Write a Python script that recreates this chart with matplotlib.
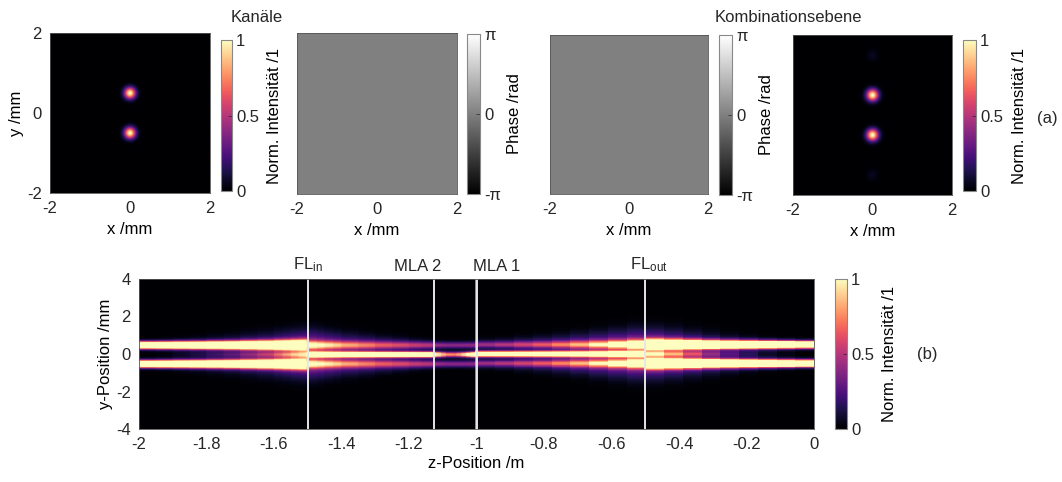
#!/usr/bin/env python3
"""Beam combination figure: channel / combination plane and propagation along z."""
import matplotlib
matplotlib.use("Agg")
import matplotlib.pyplot as plt
import numpy as np

plt.rcParams["font.family"] = ["Liberation Sans", "DejaVu Sans"]
plt.rcParams["font.size"] = 12
plt.rcParams["axes.unicode_minus"] = False
plt.rcParams["mathtext.fontset"] = "custom"
plt.rcParams["mathtext.rm"] = "Liberation Sans"
plt.rcParams["mathtext.it"] = "Liberation Sans"
plt.rcParams["text.color"] = "#262626"
plt.rcParams["xtick.color"] = "#262626"
plt.rcParams["ytick.color"] = "#262626"

W, H = 1062, 482
TEXT = "#262626"

# --- top row: spot positions (mm) and relative amplitudes ---
channel_spot_y = [0.5, -0.5]
channel_spot_amp = [1.0, 1.0]
channel_spot_sigma = 0.10
combined_spot_y = [1.5, 0.5, -0.5, -1.5]
combined_spot_amp = [0.06, 1.0, 1.0, 0.06]
combined_spot_sigma = 0.105
phase_value = 0.0

# --- bottom: propagation, beam parameters read per z sample ---
BEAM_Y = 0.5          # outer beam offset (mm)
CENTER_SIGMA = 0.095  # width of central beam (mm)

# smooth part (-2 m ... -1 m), sampled nodes
smooth_z = [-2.0, -1.9, -1.8, -1.7, -1.6, -1.55, -1.505,
            -1.495, -1.45, -1.4, -1.3, -1.2, -1.13,
            -1.12, -1.09, -1.06, -1.03, -1.005]
smooth_outer_amp = [2.0, 2.0, 2.0, 2.0, 2.0, 2.0, 2.0,
                    0.85, 0.7, 0.6, 0.47, 0.4, 0.35,
                    0.32, 0.3, 0.3, 0.3, 0.3]
smooth_outer_sigma = [0.125, 0.13, 0.135, 0.145, 0.16, 0.17, 0.18,
                      0.16, 0.16, 0.15, 0.14, 0.13, 0.12,
                      0.11, 0.11, 0.11, 0.11, 0.11]
smooth_center_amp = [0.0, 0.03, 0.12, 0.25, 0.45, 0.65, 0.9,
                     2.0, 2.0, 2.0, 2.0, 2.0, 2.0,
                     1.5, 0.8, 0.75, 1.2, 2.0]
smooth_halo_amp = [0.0, 0.06, 0.12, 0.18, 0.26, 0.32, 0.36,
                   0.38, 0.33, 0.28, 0.22, 0.17, 0.14,
                   0.12, 0.1, 0.1, 0.1, 0.12]
smooth_halo_sigma = [0.2, 0.27, 0.34, 0.41, 0.48, 0.52, 0.55,
                     0.55, 0.5, 0.44, 0.34, 0.25, 0.19,
                     0.17, 0.17, 0.17, 0.17, 0.19]

# stepped part (-1 m ... 0 m), blocks of 1/18 m
block_edges = [-1.0 + k / 18 for k in range(19)]
block_outer_amp = [0.3, 0.35, 0.4, 0.45, 0.52, 0.6, 0.72, 0.88, 1.15,
                   2.0, 2.0, 2.0, 2.0, 2.0, 2.0, 2.0, 2.0, 2.0]
block_outer_sigma = [0.11, 0.11, 0.12, 0.12, 0.13, 0.14, 0.15, 0.16, 0.17,
                     0.18, 0.17, 0.16, 0.15, 0.145, 0.14, 0.135, 0.13, 0.125]
block_center_amp = [2.0, 2.0, 2.0, 2.0, 2.0, 2.0, 2.0, 2.0, 2.0,
                    0.75, 0.6, 0.45, 0.3, 0.2, 0.12, 0.06, 0.03, 0.0]
block_halo_amp = [0.14, 0.15, 0.17, 0.2, 0.23, 0.26, 0.3, 0.34, 0.38,
                  0.38, 0.33, 0.27, 0.21, 0.16, 0.12, 0.08, 0.04, 0.0]
block_halo_sigma = [0.2, 0.23, 0.27, 0.31, 0.35, 0.4, 0.45, 0.5, 0.55,
                    0.55, 0.51, 0.46, 0.41, 0.36, 0.31, 0.26, 0.22, 0.2]

element_names = [r"FL$_{\mathrm{in}}$", "MLA 2", "MLA 1", r"FL$_{\mathrm{out}}$"]
element_z = [-1.5, -1.125, -1.0, -0.5]
element_align = ["center", "right", "left", "center"]
element_shift = [0.0, 0.02, -0.01, 0.01]


def px_axes(fig, left, top, right, bottom):
  return fig.add_axes([left / W, (H - bottom) / H, (right - left) / W, (bottom - top) / H])


def gauss(x, s):
  return np.exp(-x ** 2 / (2 * s ** 2))


def profile(y, a_out, s_out, a_cen, a_halo, s_halo):
  outer = gauss(y - BEAM_Y, s_out) + gauss(y + BEAM_Y, s_out)
  halo = gauss(np.abs(y) - BEAM_Y, s_halo)
  value = a_out * outer + a_cen * gauss(y, CENTER_SIGMA) + a_halo * halo
  return np.clip(value, 0, 1)


def spot_image(ys, amps, sigma):
  grid = np.linspace(-2, 2, 321)
  xx, yy = np.meshgrid(grid, grid)
  image = np.zeros_like(xx)
  for y0, amp in zip(ys, amps):
    image += amp * gauss(np.hypot(xx, yy - y0), sigma)
  return np.clip(image, 0, 1)


def style_axes(axis):
  for spine in axis.spines.values():
    spine.set_color("#555555")
    spine.set_linewidth(0.6)
  axis.tick_params(length=0, pad=6, labelsize=12)


def style_cbar(cbar):
  cbar.outline.set_edgecolor("#888888")
  cbar.outline.set_linewidth(0.8)
  cbar.ax.tick_params(length=3, direction="in", width=0.5, pad=3, labelsize=12)


def intensity_panel(fig, box, cbox, image, ylabel=False):
  axis = px_axes(fig, *box)
  im = axis.imshow(image, extent=[-2, 2, -2, 2], origin="lower", cmap="magma",
                   vmin=0, vmax=1, interpolation="bilinear", aspect="auto")
  axis.set_xticks([-2, 0, 2], ["-2", "0", "2"])
  axis.set_yticks([-2, 0, 2], ["-2", "0", "2"] if ylabel else [])
  axis.set_xlabel("x /mm", labelpad=4)
  if ylabel:
    axis.set_ylabel("y /mm", labelpad=2)
  style_axes(axis)
  cax = px_axes(fig, *cbox)
  cbar = fig.colorbar(im, cax=cax, ticks=[0, 0.5, 1])
  cbar.ax.set_yticklabels(["0", "0.5", "1"])
  cbar.set_label("Norm. Intensität /1", labelpad=6)
  style_cbar(cbar)


def phase_panel(fig, box, cbox):
  axis = px_axes(fig, *box)
  field = np.full((20, 20), phase_value)
  im = axis.imshow(field, extent=[-2, 2, -2, 2], origin="lower", cmap="gray",
                   vmin=-np.pi, vmax=np.pi, aspect="auto")
  axis.set_xticks([-2, 0, 2], ["-2", "0", "2"])
  axis.set_yticks([])
  axis.set_xlabel("x /mm", labelpad=4)
  style_axes(axis)
  cax = px_axes(fig, *cbox)
  cbar = fig.colorbar(im, cax=cax, ticks=[-np.pi, 0, np.pi])
  cbar.ax.set_yticklabels(["-π", "0", "π"])
  cbar.set_label("Phase /rad", labelpad=4)
  style_cbar(cbar)


def propagation_panel(fig):
  axis = px_axes(fig, 139, 279, 814, 429)
  y_centers = np.linspace(-4, 4, 401)

  smooth = np.column_stack([
    profile(y_centers, *params)
    for params in zip(smooth_outer_amp, smooth_outer_sigma, smooth_center_amp,
                      smooth_halo_amp, smooth_halo_sigma)
  ])
  zz, yy = np.meshgrid(smooth_z, y_centers)
  axis.pcolormesh(zz, yy, smooth, cmap="magma", vmin=0, vmax=1, shading="gouraud")

  y_edges = np.linspace(-4, 4, 402)
  y_mid = 0.5 * (y_edges[:-1] + y_edges[1:])
  blocks = np.column_stack([
    profile(y_mid, *params)
    for params in zip(block_outer_amp, block_outer_sigma, block_center_amp,
                      block_halo_amp, block_halo_sigma)
  ])
  mesh = axis.pcolormesh(block_edges, y_edges, blocks, cmap="magma", vmin=0, vmax=1,
                         shading="flat")

  for name, z, align, shift in zip(element_names, element_z, element_align, element_shift):
    axis.axvline(z, color="#e6e6e6", linewidth=1.4)
    axis.text(z + shift, 4.25, name, ha=align, va="bottom", fontsize=12, color=TEXT)

  axis.set_xlim(-2, 0)
  axis.set_ylim(-4, 4)
  ticks = np.round(np.arange(-2, 0.01, 0.2), 1)
  axis.set_xticks(ticks, [f"{t:g}" if t != 0 else "0" for t in ticks])
  axis.set_yticks([-4, -2, 0, 2, 4], ["-4", "-2", "0", "2", "4"])
  axis.set_xlabel("z-Position /m", labelpad=3)
  axis.set_ylabel("y-Position /mm", labelpad=2)
  style_axes(axis)

  cax = px_axes(fig, 835, 279, 847, 429)
  cbar = fig.colorbar(mesh, cax=cax, ticks=[0, 0.5, 1])
  cbar.ax.set_yticklabels(["0", "0.5", "1"])
  cbar.set_label("Norm. Intensität /1", labelpad=6)
  style_cbar(cbar)


def main():
  fig = plt.figure(figsize=(W / 100, H / 100), dpi=100)
  fig.patch.set_facecolor("white")

  intensity_panel(fig, (50, 33, 210, 193), (221, 40, 232, 191),
                  spot_image(channel_spot_y, channel_spot_amp, channel_spot_sigma), ylabel=True)
  phase_panel(fig, (297, 33, 457, 194), (467, 34, 480, 194))
  phase_panel(fig, (550, 35, 708, 194), (719, 35, 732, 195))
  intensity_panel(fig, (793, 35, 952, 195), (963, 40, 976, 191),
                  spot_image(combined_spot_y, combined_spot_amp, combined_spot_sigma))

  fig.text(257 / W, 1 - 18 / H, "Kanäle", ha="center", va="center", fontsize=12)
  fig.text(788 / W, 1 - 18 / H, "Kombinationsebene", ha="center", va="center", fontsize=12)
  fig.text(1047 / W, 1 - 118 / H, "(a)", ha="center", va="center", fontsize=12)

  propagation_panel(fig)
  fig.text(927 / W, 1 - 355 / H, "(b)", ha="center", va="center", fontsize=12)

  fig.savefig("out.png", dpi=100)
  plt.close(fig)


if __name__ == "__main__":
  main()
